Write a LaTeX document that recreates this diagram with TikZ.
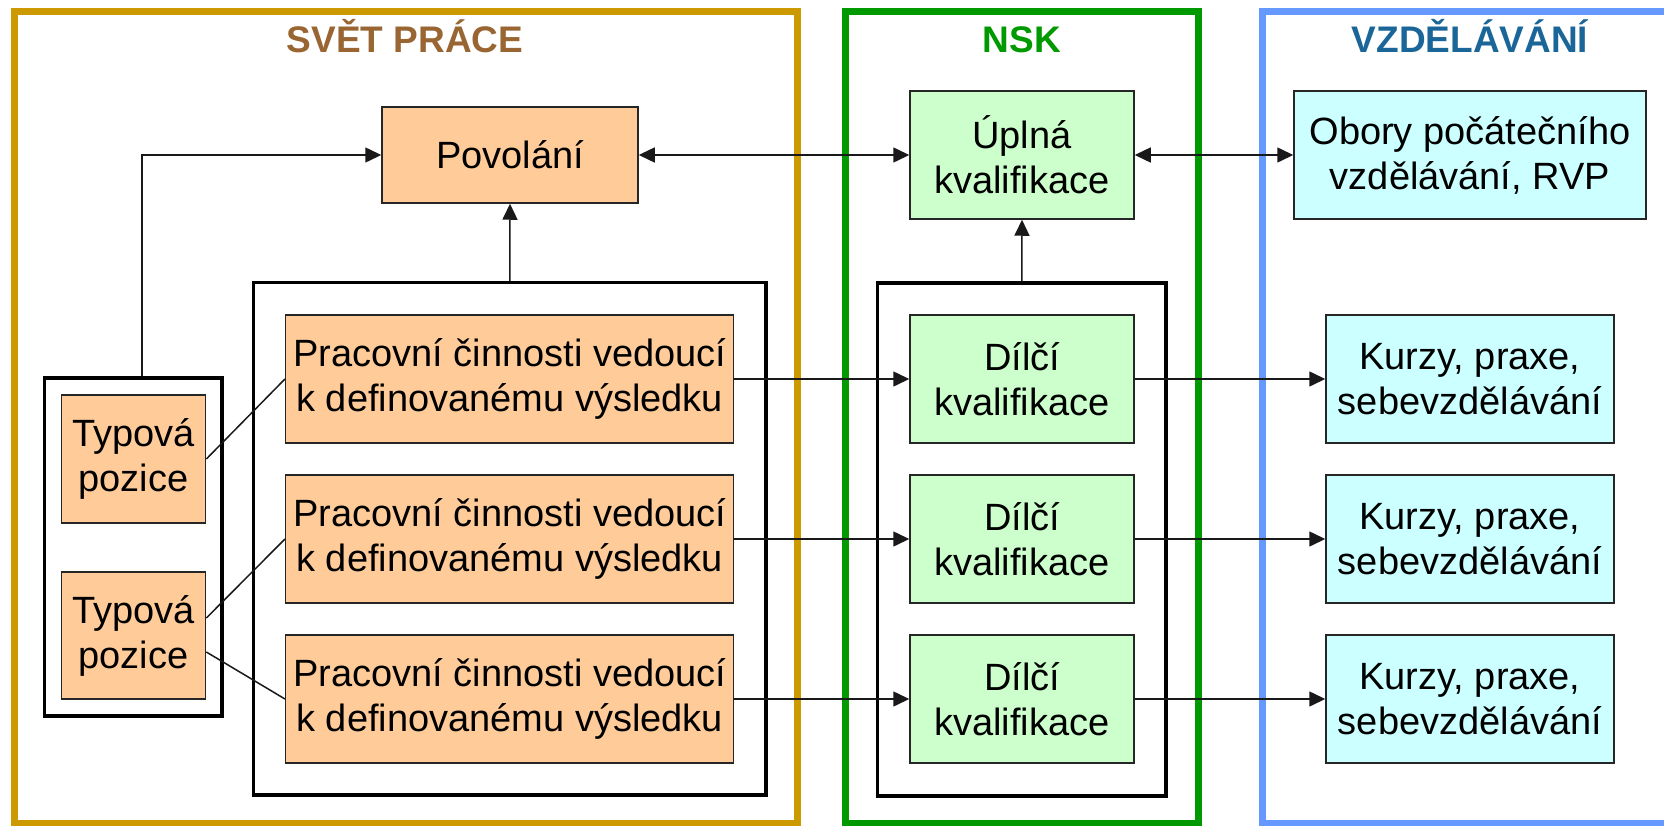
\documentclass[tikz,border=0pt]{standalone}
\usepackage{fontspec}
\setmainfont{Liberation Sans}
\usetikzlibrary{arrows.meta}
\definecolor{goldf}{HTML}{CC9900}
\definecolor{greenf}{HTML}{009900}
\definecolor{bluef}{HTML}{6699FF}
\definecolor{brownt}{HTML}{996633}
\definecolor{greent}{HTML}{009900}
\definecolor{bluet}{HTML}{1A6699}
\definecolor{orfill}{HTML}{FFCC99}
\definecolor{grfill}{HTML}{CCFFCC}
\definecolor{cyfill}{HTML}{CCFFFF}
\tikzset{
  box/.style={draw=black!85, line width=1.5pt, inner sep=0pt, align=center,
    font=\fontsize{38}{45}\selectfont, minimum height=128pt},
  orbox/.style={box, fill=orfill},
  grbox/.style={box, fill=grfill},
  cybox/.style={box, fill=cyfill},
  grp/.style={draw=black, line width=3.5pt, inner sep=0pt},
  frame/.style={line width=7pt},
  title/.style={font=\fontsize{37}{45}\selectfont\bfseries, anchor=base},
  conn/.style={draw=black!90, line width=1.5pt},
  arr/.style={conn, -{Triangle[length=16pt,width=15pt]}},
  darr/.style={conn, {Triangle[length=16pt,width=15pt]}-{Triangle[length=16pt,width=15pt]}}
}
\begin{document}
\begin{tikzpicture}[x=1pt,y=-1pt]
\useasboundingbox (0,0) rectangle (1664,826);
\clip (0,0) rectangle (1664,826);
\fill[white] (0,0) rectangle (1664,826);
% frames
\draw[frame, goldf] (14.4,11.2) rectangle (797,823);
\draw[frame, greenf] (845.5,11.2) rectangle (1198,823);
\draw[frame, bluef] (1262.6,11.2) rectangle (1700,823);
\node[title, text=brownt] (t1) at (405,53) {SVĚT PRÁCE};
\node[title, text=greent] (t2) at (1022,53) {NSK};
\node[title, text=bluet] (t3) at (1470,53) {VZDĚLÁVÁNÍ};
% group boxes
\node[grp, minimum width=512.3pt, minimum height=512.3pt] (gP) at (509.85,538.85) {};
\node[grp, minimum width=288.4pt, minimum height=513pt] (gD) at (1021.8,539.5) {};
\node[grp, minimum width=177.5pt, minimum height=338pt] (gT) at (133.25,547) {};
% boxes
\node[orbox, minimum width=256pt, minimum height=96pt] (pov) at (510,155) {Povolání};
\node[grbox, minimum width=224pt] (upl) at (1022,155) {Úplná\\kvalifikace};
\node[cybox, minimum width=352pt] (obo) at (1470,155) {Obory počátečního\\vzdělávání, RVP};
\foreach \i/\y in {1/379,2/539,3/699}{
  \node[orbox, minimum width=448pt] (pr\i) at (509.7,\y) {Pracovní činnosti vedoucí\\k definovanému výsledku};
  \node[grbox, minimum width=224pt] (dk\i) at (1022,\y) {Dílčí\\kvalifikace};
  \node[cybox, minimum width=288pt] (ku\i) at (1470,\y) {Kurzy, praxe,\\sebevzdělávání};
}
\node[orbox, minimum width=144pt] (ty1) at (133.6,459) {Typová\\pozice};
\node[orbox, minimum width=144pt, minimum height=127pt] (ty2) at (133.6,635.5) {Typová\\pozice};
% connectors
\draw[arr] ([xshift=8.5pt]gT.north) |- (pov.west);
\draw[arr] (gP.north) -- (pov.south);
\draw[darr] (pov.east) -- (upl.west);
\draw[arr] (gD.north) -- (upl.south);
\draw[darr] (upl.east) -- (obo.west);
\foreach \i in {1,2,3}{
  \draw[arr] (pr\i.east) -- (dk\i.west);
  \draw[arr] (dk\i.east) -- (ku\i.west);
}
\draw[conn] (ty1.east) -- (pr1.west);
\draw[conn] ([yshift=17.5pt]ty2.east) -- (pr2.west);
\draw[conn] ([yshift=-16.5pt]ty2.east) -- (pr3.west);
\end{tikzpicture}
\end{document}
